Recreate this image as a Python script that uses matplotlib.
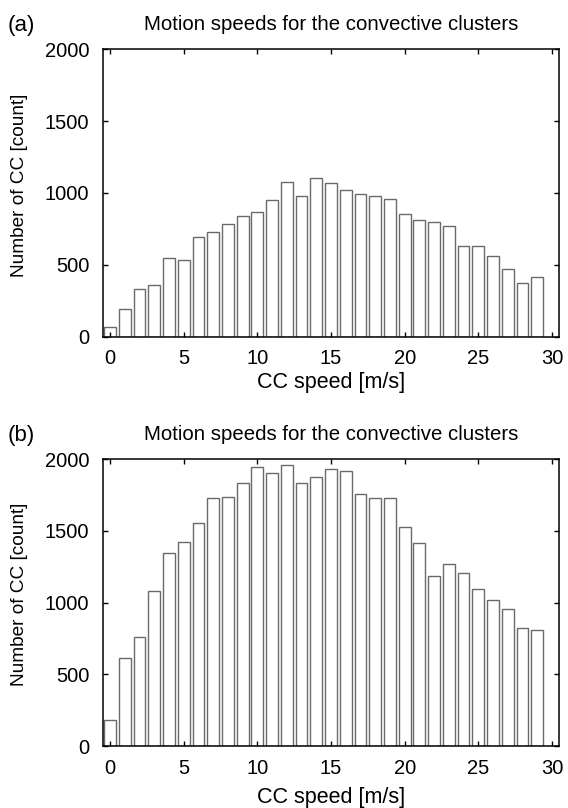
import matplotlib
matplotlib.use("Agg")
import matplotlib.pyplot as plt
import numpy as np

plt.rcParams['font.family'] = ['Liberation Sans', 'DejaVu Sans']

speeds = np.arange(30)
counts_a = [65, 191, 330, 360, 545, 532, 692, 726, 782, 842,
            870, 949, 1079, 981, 1102, 1070, 1023, 993, 979, 961,
            854, 814, 796, 768, 629, 633, 559, 471, 374, 415]
counts_b = [179, 612, 758, 1079, 1349, 1423, 1554, 1728, 1737, 1837,
            1947, 1903, 1963, 1837, 1875, 1931, 1917, 1756, 1728, 1733,
            1530, 1419, 1189, 1268, 1205, 1093, 1021, 958, 826, 810]
panel_tags = ['(a)', '(b)']
title = 'Motion speeds for the convective clusters'
xlabel = 'CC speed [m/s]'
ylabel = 'Number of CC [count]'
xticks = [0, 5, 10, 15, 20, 25, 30]
yticks = [0, 500, 1000, 1500, 2000]

W, H = 568, 808
fig = plt.figure(figsize=(W / 100, H / 100), dpi=100)


def px(x, y):
    """Pixel position (from top-left) to figure fraction."""
    return x / W, 1 - y / H


# axes boxes in pixels: left, top, right, bottom; plus x-label baseline
boxes = [(102.7, 49.3, 559.3, 336.7, 388.0),
         (102.7, 459.3, 559.3, 746.0, 803.0)]

for box, counts, tag in zip(boxes, [counts_a, counts_b], panel_tags):
    l, t, r, b, xl_base = box
    ax = fig.add_axes([l / W, 1 - b / H, (r - l) / W, (b - t) / H])
    ax.bar(speeds, counts, width=0.8, color='white',
           edgecolor='#6a6a6a', linewidth=1.0)
    ax.set_xlim(-0.5, 30.5)
    ax.set_ylim(0, 2000)
    ax.set_xticks(xticks)
    ax.set_yticks(yticks)
    ax.tick_params(direction='in', top=True, right=True, length=3.5,
                   width=1, labelsize=14.5)
    ax.tick_params(axis='x', pad=9.0)
    ax.tick_params(axis='y', pad=9.6)
    for s in ax.spines.values():
        s.set_linewidth(1.1)

    ax.set_xlabel(xlabel, fontsize=15.5)
    ax.xaxis.set_label_coords(*px((l + r) / 2, xl_base),
                              transform=fig.transFigure)
    ax.xaxis.label.set_verticalalignment('baseline')

    ax.set_ylabel(ylabel, fontsize=13.7)
    ax.yaxis.set_label_coords(*px(20, (t + b) / 2 - 8),
                              transform=fig.transFigure)
    ax.yaxis.label.set_verticalalignment('center')

    ax.set_title(title, fontsize=14.7, pad=14)
    fig.text(*px(8, t - 18.5), tag, fontsize=16,
             ha='left', va='baseline')

fig.savefig('out.png', dpi=100)
